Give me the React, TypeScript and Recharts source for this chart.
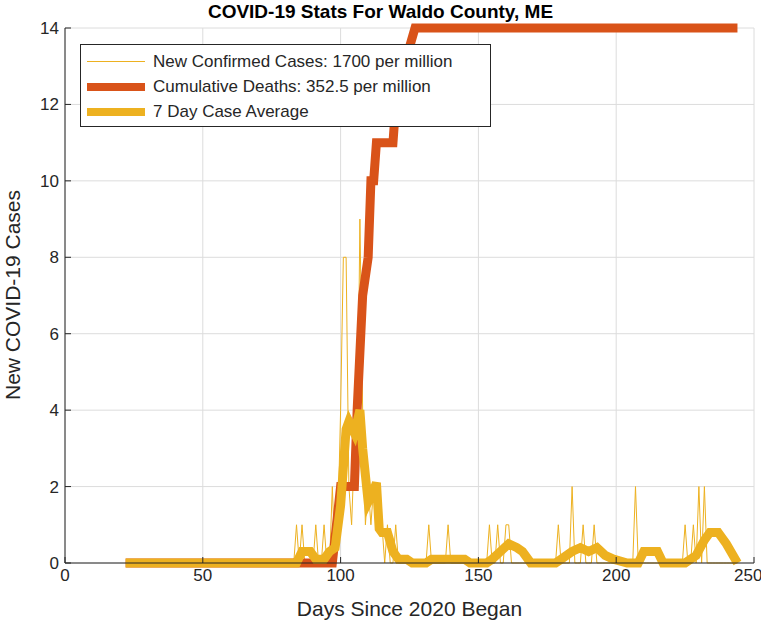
import React from 'react';
import { ComposedChart, Line, XAxis, YAxis, CartesianGrid } from 'recharts';

const caseSpikes: [number, number][] = [
  [84, 1], [86, 1], [91, 1], [94, 1], [97, 2], [99, 1], [100, 4], [101, 8], [102, 8], [103, 2], [104, 1],
  [105, 3], [106, 2], [107, 9], [108, 4], [109, 1], [110, 2], [111, 1], [112, 2], [113, 1], [114, 2],
  [115, 1], [117, 1], [120, 1], [132, 1], [139, 1], [154, 1], [157, 1], [160, 1], [161, 1], [179, 1],
  [184, 2], [188, 1], [192, 1], [207, 2], [225, 1], [228, 1], [230, 2], [232, 2],
];
const firstDay = 22;
const lastDay = 244;
const deathPoints: [number, number][] = [
  [22, 0], [97, 0], [100, 2], [105, 2], [106, 4], [108, 7], [110, 8], [111, 10], [112, 10], [113, 11],
  [119, 11], [120, 12], [123, 13], [127, 14], [244, 14],
];
const avgPoints: [number, number][] = [
  [22, 0], [84, 0], [86, 0.3], [89, 0.3], [91, 0.1], [94, 0.1], [96, 0.3], [98, 0.4], [100, 1.5], [102, 3.5],
  [103, 3.7], [105, 3.4], [107, 4], [108, 3], [110, 1.6], [112, 1.9], [113, 2.1], [114, 0.9], [115, 0.8],
  [117, 0.8], [119, 0.3], [121, 0.1], [124, 0.1], [126, 0], [131, 0], [133, 0.1], [145, 0.1], [147, 0],
  [153, 0], [155, 0.1], [158, 0.3], [161, 0.5], [164, 0.4], [166, 0.3], [169, 0], [178, 0], [180, 0.1],
  [184, 0.3], [187, 0.4], [190, 0.3], [193, 0.4], [196, 0.2], [199, 0.1], [204, 0], [208, 0], [210, 0.3],
  [215, 0.3], [217, 0], [225, 0], [229, 0.2], [232, 0.6], [234, 0.8], [237, 0.8], [240, 0.5], [244, 0],
];
const xTicks = [0, 50, 100, 150, 200, 250];
const yTicks = [0, 2, 4, 6, 8, 10, 12, 14];

const spikeMap = new Map(caseSpikes);
const caseData: { d: number; v: number }[] = [];
for (let d = firstDay; d <= lastDay; d++) caseData.push({ d, v: spikeMap.get(d) ?? 0 });
const deathData = deathPoints.map(([d, v]) => ({ d, v }));
const avgData = avgPoints.map(([d, v]) => ({ d, v }));

const C1 = '#EDB120';
const C2 = '#D95319';
const font = 'Arial, "Liberation Sans", Helvetica, sans-serif';
const tick = { fill: '#262626', fontSize: 17, fontFamily: font };

export default function App() {
  return (
    <div style={{ position: 'absolute', left: 0, top: 0, width: 761, height: 630, background: '#fff', fontFamily: font }}>
      <ComposedChart width={761} height={630} margin={{ top: 28, right: 7, bottom: 0, left: 0 }}>
        <CartesianGrid xAxisId="b" yAxisId="l" stroke="#dcdcdc" />
        <XAxis xAxisId="b" dataKey="d" type="number" domain={[0, 250]} ticks={xTicks} height={67}
          tick={tick} stroke="#262626" tickSize={-6} tickMargin={12} allowDataOverflow
          label={{ value: 'Days Since 2020 Began', position: 'insideBottom', offset: 14, fill: '#262626', fontSize: 21, fontFamily: font }} />
        <XAxis xAxisId="t" orientation="top" type="number" domain={[0, 250]} ticks={xTicks} height={0}
          tick={false} stroke="#262626" tickSize={-6} />
        <YAxis yAxisId="l" type="number" domain={[0, 14]} ticks={yTicks} width={65}
          tick={tick} stroke="#262626" tickSize={-6} tickMargin={12} />
        <YAxis yAxisId="r" orientation="right" type="number" domain={[0, 14]} ticks={yTicks} width={0}
          tick={false} stroke="#262626" tickSize={-6} />
        <Line xAxisId="b" yAxisId="l" data={caseData} dataKey="v" stroke={C1} strokeWidth={1} dot={false} isAnimationActive={false} />
        <Line xAxisId="b" yAxisId="l" data={deathData} dataKey="v" stroke={C2} strokeWidth={9} dot={false} isAnimationActive={false} />
        <Line xAxisId="b" yAxisId="l" data={avgData} dataKey="v" stroke={C1} strokeWidth={9} dot={false} isAnimationActive={false} />
      </ComposedChart>
      <div style={{ position: 'absolute', left: 13, top: 295, width: 0, height: 0 }}>
        <div style={{ position: 'absolute', left: -150, top: -13, width: 300, textAlign: 'center', transform: 'rotate(-90deg)', fontSize: 21, lineHeight: '26px', color: '#262626', whiteSpace: 'nowrap' }}>
          New COVID-19 Cases
        </div>
      </div>
      <div style={{ position: 'absolute', top: 0, left: 0, width: 761, textAlign: 'center', fontWeight: 'bold', fontSize: 19, lineHeight: '24px', color: '#000' }}>
        COVID-19 Stats For Waldo County, ME
      </div>
      <div style={{ position: 'absolute', left: 80, top: 44, width: 409, height: 81, border: '1px solid #262626', background: '#fff', fontSize: 17, color: '#262626' }}>
        {[
          ['New Confirmed Cases: 1700 per million', C1, 1],
          ['Cumulative Deaths: 352.5 per million', C2, 8],
          ['7 Day Case Average', C1, 8],
        ].map(([t, c, w], i) => (
          <div key={i} style={{ position: 'absolute', left: 6, top: 4 + i * 25, height: 25, display: 'flex', alignItems: 'center' }}>
            <div style={{ width: 58, height: w as number, background: c as string, marginRight: 8 }} />
            <span>{t}</span>
          </div>
        ))}
      </div>
    </div>
  );
}
